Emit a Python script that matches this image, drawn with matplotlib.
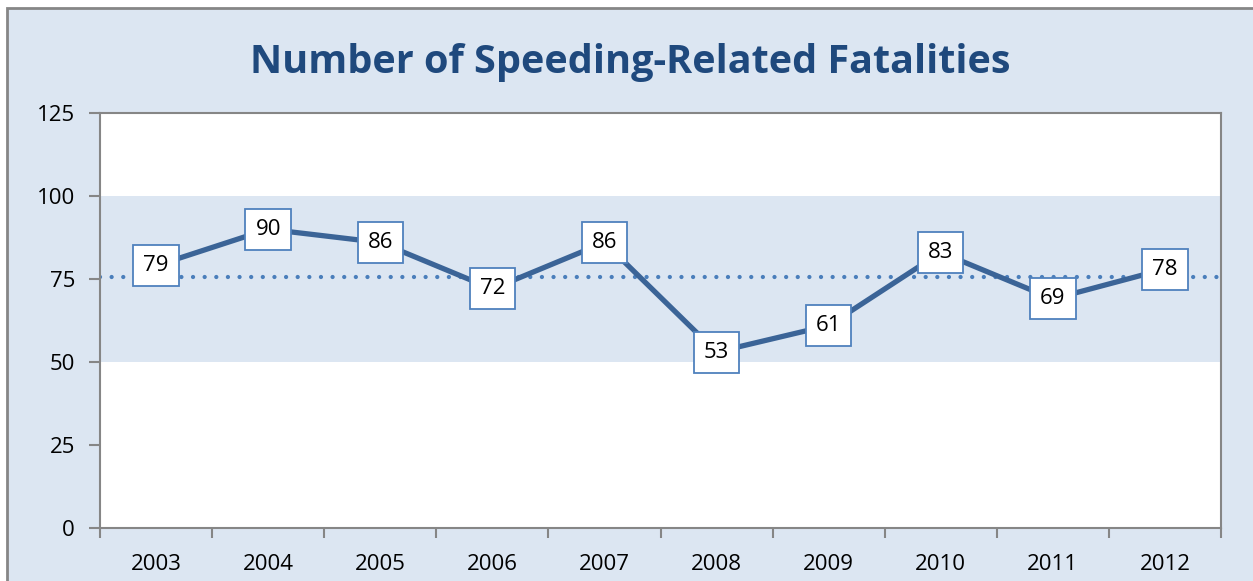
import numpy as np
import matplotlib.pyplot as plt
from matplotlib.patches import Rectangle

years = ["2003", "2004", "2005", "2006", "2007", "2008", "2009", "2010", "2011", "2012"]
fatalities = [79, 90, 86, 72, 86, 53, 61, 83, 69, 78]
band_low, band_high = 50, 100
y_ticks = [0, 25, 50, 75, 100, 125]

BG = "#DCE6F2"
LINE = "#3B6497"
DOT = "#4A7EBB"
GRID = "#868686"

plt.rcParams["font.family"] = ["Open Sans", "DejaVu Sans"]

fig = plt.figure(figsize=(12.53, 5.81), dpi=100)
fig.patch.set_facecolor("white")
W, H = 1253, 581
fig.patches.append(Rectangle((7 / W, -0.05), 1.1, 1 - 8 / H + 0.05, transform=fig.transFigure,
                             facecolor=BG, edgecolor=GRID, linewidth=2, zorder=-1))

ax = fig.add_axes([100 / W, (H - 528) / H, 1121 / W, (528 - 113) / H])
ax.set_facecolor("white")
x = np.arange(len(years))

ax.axhspan(band_low, band_high, color=BG, zorder=0, linewidth=0)
avg = np.mean(fatalities)
ax.axhline(avg, color=DOT, linewidth=3.1, linestyle=(0, (0.001, 2.7)),
           dash_capstyle="round", zorder=1)
ax.plot(x, fatalities, color=LINE, linewidth=3.8, zorder=2, solid_capstyle="butt")
for xi, v in zip(x, fatalities):
    ax.text(xi, v, str(v), ha="center", va="center", fontsize=16, color="black", zorder=3,
            bbox=dict(boxstyle="square,pad=0.45", facecolor="white", edgecolor="#4F81BD", linewidth=1.3))

ax.set_xlim(-0.5, len(years) - 0.5)
ax.set_ylim(0, 125)
ax.set_yticks(y_ticks)
ax.set_xticks(np.arange(len(years) + 1) - 0.5)
ax.set_xticklabels([])
ax.set_xticks(x, minor=True)
ax.set_xticklabels(years, minor=True)
ax.tick_params(axis="x", which="minor", length=0, pad=19, labelsize=16)
ax.tick_params(axis="x", which="major", length=7, width=1.5, color=GRID, direction="out")
ax.tick_params(axis="y", length=8, width=1.5, color=GRID, direction="out", pad=10, labelsize=16)
for s in ax.spines.values():
    s.set_color(GRID)
    s.set_linewidth(1.5)

fig.text(630 / W, 1 - 62 / H, "Number of Speeding-Related Fatalities", ha="center", va="center",
         fontsize=28.5, fontweight="bold", color="#1F497D")

fig.savefig("out.png", dpi=100)
